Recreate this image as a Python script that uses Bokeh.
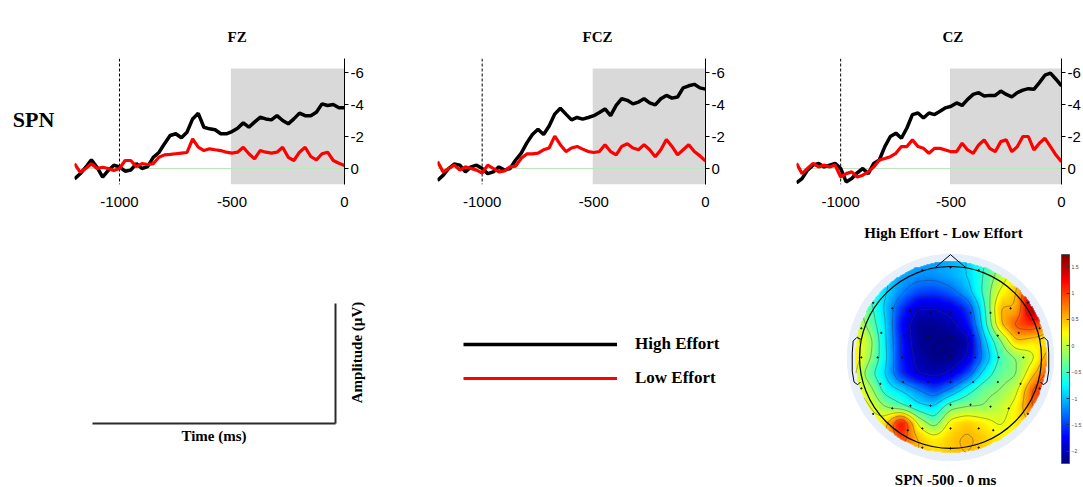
import numpy as np
from bokeh.plotting import figure
from bokeh.models import (Range1d, FixedTicker, Span, Label, Legend, LegendItem,
                          LinearColorMapper, ColorBar, BoxAnnotation)
from bokeh.layouts import row, column
from bokeh.embed import file_html
from bokeh.resources import INLINE

# ---------------- data ----------------
time_ms = list(range(-1200, 1, 25))

fz_high = [0.65, 0.33, -0.08, -0.54, -0.08, 0.54, 0.12, -0.2, -0.1, 0.17, 0.1, -0.3, 0.0,
           -0.12, -0.7, -1.0, -1.55, -2.06, -2.17, -1.92, -2.27, -3.1, -3.45, -2.58, -2.48,
           -2.42, -2.17, -2.17, -2.31, -2.52, -2.85, -2.58, -2.9, -3.2, -3.1, -3.04, -3.3,
           -3.0, -2.79, -3.1, -3.46, -3.3, -3.3, -3.52, -4.04, -3.94, -4.0, -3.8, -3.8]
fz_low = [-0.3, 0.23, 0.0, -0.3, 0.0, -0.08, 0.0, 0.12, 0.0, -0.5, -0.5, -0.12, -0.3,
          -0.25, -0.3, -0.7, -0.85, -0.88, -0.92, -0.96, -1.0, -1.85, -1.33, -1.12, -1.23,
          -1.17, -1.12, -1.02, -0.96, -1.02, -1.33, -0.92, -0.6, -1.12, -1.02, -0.96, -1.02,
          -1.33, -0.7, -0.5, -1.02, -1.33, -0.75, -0.54, -0.92, -1.02, -0.5, -0.33, -0.19]
fcz_high = [0.74, 0.43, 0.0, -0.28, -0.21, 0.21, -0.1, -0.21, 0.0, 0.32, 0.21, -0.1, 0.1,
            0.0, -0.53, -0.96, -1.6, -2.13, -2.45, -2.13, -2.66, -3.4, -3.77, -3.4, -3.04,
            -3.19, -3.09, -3.19, -3.3, -3.5, -3.72, -3.3, -3.94, -4.36, -4.26, -4.04, -4.15,
            -4.36, -4.1, -3.98, -4.36, -4.57, -4.4, -4.47, -5.04, -5.17, -5.26, -5.04, -4.96]
fcz_low = [-0.43, 0.21, 0.0, -0.21, 0.1, -0.1, 0.0, 0.1, 0.28, -0.21, 0.0, 0.21, 0.15,
           -0.1, -0.15, -0.64, -0.91, -0.91, -0.96, -1.17, -1.28, -2.02, -1.49, -1.06, -1.28,
           -1.38, -1.21, -1.06, -1.0, -1.06, -1.49, -1.06, -0.85, -1.38, -1.55, -1.28, -1.17,
           -1.49, -1.17, -0.74, -1.17, -1.81, -1.38, -0.85, -1.17, -1.49, -1.06, -0.79, -0.47]
cz_high = [0.9, 0.63, 0.1, -0.21, -0.32, -0.1, -0.21, -0.32, 0.0, 0.84, 0.63, 0.27, 0.0,
           0.32, -0.32, -0.53, -1.37, -2.0, -2.21, -1.89, -2.53, -3.37, -3.47, -3.16, -3.47,
           -3.37, -3.58, -3.79, -3.89, -4.1, -3.94, -4.32, -4.63, -4.74, -4.53, -4.57, -4.57,
           -4.84, -4.63, -4.48, -4.74, -4.9, -4.99, -4.95, -5.37, -5.83, -5.96, -5.58, -5.16]
cz_low = [-0.32, 0.32, 0.0, -0.32, -0.1, -0.21, -0.1, -0.21, 0.53, 0.32, 0.21, 0.53, 0.42,
          0.21, -0.1, -0.53, -0.63, -0.74, -0.95, -1.37, -1.37, -1.79, -1.37, -1.26, -0.95,
          -1.26, -1.26, -1.16, -1.05, -1.05, -1.58, -1.16, -0.95, -1.47, -1.79, -1.26, -1.05,
          -1.68, -1.79, -1.05, -1.37, -2.0, -2.0, -1.16, -1.58, -1.89, -1.37, -0.84, -0.42]

channels = ["FZ", "FCZ", "CZ"]
x_ticks = [-1000, -500, 0]
y_ticks = [-6, -4, -2, 0]
onset_ms = -1000
window_start, window_end = -505, 0
series_names = ["High Effort", "Low Effort"]

topo_axis = [-1.08, -0.9, -0.72, -0.54, -0.36, -0.18, 0.0, 0.18, 0.36, 0.54, 0.72, 0.9, 1.08]
topo_values = [
    [-0.6, -0.7, -0.8, -0.95, -1.05, -1.1, -1.05, -0.9, -0.6, -0.2, 0.3, 0.8, 0.9],
    [-0.5, -0.7, -0.85, -1.05, -1.15, -1.15, -1.05, -0.9, -0.55, -0.05, 0.35, 1.0, 1.1],
    [-0.3, -0.6, -0.85, -1.2, -1.45, -1.5, -1.35, -1.05, -0.5, 0.2, 0.45, 1.5, 1.5],
    [0.0, -0.4, -0.95, -1.55, -1.95, -1.95, -1.85, -1.55, -0.7, 0.55, 0.5, 1.7, 1.5],
    [0.2, -0.3, -0.85, -1.75, -2.15, -2.15, -2.05, -1.75, -0.8, 0.45, 0.95, 1.1, 0.6],
    [0.3, 0.0, -0.85, -1.65, -2.15, -2.2, -2.2, -2.1, -1.05, -0.3, 0.5, 0.35, 0.3],
    [0.4, -0.1, -0.8, -1.65, -2.05, -2.2, -2.2, -1.95, -1.2, -0.5, -0.2, 0.05, 0.7],
    [0.3, -0.4, -0.9, -1.6, -1.95, -2.05, -1.9, -1.5, -0.8, -0.35, -0.25, 0.4, 1.0],
    [0.3, 0.0, -0.7, -0.9, -1.2, -1.5, -1.2, -0.7, -0.3, -0.2, 0.05, 0.9, 1.3],
    [0.3, 0.2, -0.2, -0.5, -0.8, -0.9, -0.3, -0.2, -0.2, 0.0, 0.25, 0.9, 1.0],
    [0.3, 0.3, 0.35, 1.4, 0.1, -0.4, 0.3, 0.45, 0.3, 0.1, 0.3, 0.5, 0.5],
    [0.3, 0.3, 0.5, 1.0, 0.5, 0.3, 0.45, 0.55, 0.45, 0.3, 0.3, 0.3, 0.3],
    [0.3, 0.3, 0.5, 0.7, 0.5, 0.35, 0.45, 0.5, 0.4, 0.3, 0.3, 0.3, 0.3],
]
color_low, color_high = -2.23, 1.73
colorbar_ticks = [-2, -1.5, -1, -0.5, 0, 0.5, 1, 1.5]

# electrode positions (head-radius units)
elec_u = [-0.31, 0.0, 0.31, -0.85, -0.64, -0.44, -0.22, 0.0, 0.22, 0.44, 0.66, 0.85,
          -0.98, -0.76, -0.51, -0.25, 0.0, 0.25, 0.52, 0.75, 0.98,
          -0.98, -0.8, -0.53, -0.25, 0.0, 0.27, 0.53, 0.8,
          -0.98, -0.77, -0.52, -0.25, 0.0, 0.25, 0.52, 0.77, 0.98,
          -0.85, -0.64, -0.44, -0.22, 0.0, 0.22, 0.44, 0.64, 0.85,
          -0.47, -0.31, 0.0, 0.31, 0.47, -0.31, 0.0, 0.31]
elec_v = [0.96, 0.99, 0.96, 0.60, 0.54, 0.51, 0.49, 0.49, 0.49, 0.49, 0.54, 0.60,
          0.32, 0.27, 0.24, 0.23, 0.23, 0.24, 0.24, 0.27, 0.32,
          0.0, 0.0, 0.0, 0.0, 0.0, 0.0, 0.0, 0.0,
          -0.34, -0.29, -0.27, -0.27, -0.27, -0.27, -0.27, -0.29, -0.34,
          -0.62, -0.56, -0.53, -0.53, -0.52, -0.52, -0.54, -0.56, -0.62,
          -0.80, -0.78, -0.78, -0.78, -0.80, -0.99, -1.0, -0.99]

SERIF = "Liberation Serif"
SANS = "Liberation Sans"


def jet(n=256):
    out = []
    for i in range(n):
        t = i / (n - 1)
        r = min(max(1.5 - abs(4 * t - 3), 0), 1)
        g = min(max(1.5 - abs(4 * t - 2), 0), 1)
        b = min(max(1.5 - abs(4 * t - 1), 0), 1)
        out.append("#%02x%02x%02x" % (int(r * 255), int(g * 255), int(b * 255)))
    return out


def no_align(p):
    try:
        p.frame_align = False
    except Exception:
        pass


def hyphen(v):
    return ("-%g" % abs(v)) if v < 0 else "%g" % v


def erp_panel(name, high, low, width, left, right, title_off):
    p = figure(width=width, height=218, x_range=Range1d(-1200, 0), y_range=Range1d(1.0, -6.875),
               y_axis_location="right", output_backend="svg", toolbar_location=None,
               min_border_left=left, min_border_right=right, min_border_top=58,
               min_border_bottom=34)
    p.outline_line_color = None
    p.grid.visible = False
    p.background_fill_color = "white"
    p.add_layout(BoxAnnotation(left=window_start, right=window_end, top=-6.25, bottom=1.0,
                               fill_color="#d9d9d9", fill_alpha=1.0, line_color=None,
                               level="underlay"))
    p.add_layout(Span(location=0, dimension="width", line_color="#bfe5bf", line_width=1,
                      level="underlay"))
    p.add_layout(Span(location=onset_ms, dimension="height", line_color="black",
                      line_width=1, line_dash="3 2", level="underlay"))
    p.line(time_ms, high, line_color="black", line_width=3.5)
    p.line(time_ms, low, line_color="#ff0000", line_width=3.2)

    p.xaxis.ticker = FixedTicker(ticks=x_ticks)
    p.xaxis.major_label_overrides = {t: hyphen(t) for t in x_ticks}
    p.xaxis.axis_line_color = None
    p.xaxis.major_tick_line_color = None
    p.xaxis.minor_tick_line_color = None
    p.xaxis.major_label_standoff = 6
    p.xaxis.major_label_text_font = SANS
    p.xaxis.major_label_text_font_size = "15px"
    p.xaxis.major_label_text_color = "black"

    p.yaxis.ticker = FixedTicker(ticks=y_ticks)
    p.yaxis.major_label_overrides = {t: hyphen(t) for t in y_ticks}
    p.yaxis.axis_line_color = "black"
    p.yaxis.axis_line_width = 1
    p.yaxis.major_tick_out = 4
    p.yaxis.major_tick_in = 0
    p.yaxis.minor_tick_line_color = None
    p.yaxis.major_label_standoff = 2
    p.yaxis.major_label_text_font = SANS
    p.yaxis.major_label_text_font_size = "15px"
    p.yaxis.major_label_text_color = "black"

    p.title.text = name
    p.title.align = "left"
    p.title.offset = title_off
    p.title.standoff = 27
    p.title.text_font = SERIF
    p.title.text_font_style = "bold"
    p.title.text_font_size = "15px"
    p.title.text_color = "black"
    return p


# SPN row label
sp = figure(width=60, height=218, x_range=Range1d(0, 60), y_range=Range1d(0, 126),
            x_axis_type=None, y_axis_type=None, output_backend="svg", toolbar_location=None,
            min_border_left=0, min_border_right=0, min_border_top=58, min_border_bottom=34)
sp.outline_line_color = None
sp.grid.visible = False
sp.add_layout(Label(x=33, y=65, text="SPN", text_font=SERIF, text_font_style="bold",
                    text_font_size="22px", text_align="center", text_baseline="middle",
                    text_color="black"))

p1 = erp_panel(channels[0], fz_high, fz_low, 332, 14, 48, 153)
p2 = erp_panel(channels[1], fcz_high, fcz_low, 360, 45, 47, 145)
p3 = erp_panel(channels[2], cz_high, cz_low, 331, 44, 16, 146)

# ---------- scale bar axes ----------
sb = figure(width=345, height=269, x_range=Range1d(0, 1), y_range=Range1d(0, 1),
            y_axis_location="right", output_backend="svg", toolbar_location=None,
            min_border_left=92, min_border_right=10, min_border_top=85, min_border_bottom=64)
sb.outline_line_color = None
sb.grid.visible = False
for ax in (sb.xaxis, sb.yaxis):
    ax.ticker = FixedTicker(ticks=[])
    ax.axis_line_width = 2
    ax.axis_line_color = "#2a2a2a"
    ax.major_tick_out = 0
    ax.major_tick_in = 0
    ax.major_label_standoff = 0
sb.xaxis.axis_label = "Time (ms)"
sb.xaxis.axis_label_text_font = SERIF
sb.xaxis.axis_label_text_font_style = "bold"
sb.xaxis.axis_label_text_font_size = "15px"
sb.xaxis.axis_label_text_color = "black"
sb.xaxis.axis_label_standoff = 4

# ---------- legend + amplitude label ----------
lg = figure(width=485, height=269, x_range=Range1d(0, 485), y_range=Range1d(0, 269),
            x_axis_type=None, y_axis_type=None, output_backend="svg", toolbar_location=None,
            min_border=0)
no_align(lg)
lg.outline_line_color = None
lg.grid.visible = False
r_hi = lg.line(x=[-10], y=[-10], line_color="black", line_width=3.5)
r_lo = lg.line(x=[-10], y=[-10], line_color="#ff0000", line_width=3.2)
legend = Legend(items=[LegendItem(label=series_names[0], renderers=[r_hi]),
                       LegendItem(label=series_names[1], renderers=[r_lo])],
                location=(118, 99), glyph_width=154, glyph_height=20, label_standoff=18,
                spacing=14, padding=0, margin=0, border_line_color=None,
                background_fill_alpha=0, label_text_font=SERIF, label_text_font_style="bold",
                label_text_font_size="17px", label_text_color="black")
lg.add_layout(legend)
lg.add_layout(Label(x=11, y=135, text="Amplitude (µV)", angle=np.pi / 2, text_font=SERIF,
                    text_font_style="bold", text_font_size="15px", text_align="center",
                    text_baseline="middle", text_color="black"))

# ---------- topography ----------
tp = figure(width=253, height=269, x_range=Range1d(-1.319, 1.462), y_range=Range1d(-1.429, 1.527),
            x_axis_type=None, y_axis_type=None, output_backend="svg", toolbar_location=None,
            min_border=0)
no_align(tp)
tp.outline_line_color = None
tp.grid.visible = False

src_axis = np.asarray(topo_axis, float)
grid = np.asarray(topo_values, float)[::-1]  # bottom row first
n = 217
dst = np.linspace(src_axis[0], src_axis[-1], n)
tmp = np.array([np.interp(dst, src_axis, r) for r in grid])
field = np.array([np.interp(dst, src_axis, c) for c in tmp.T]).T
k = 3
for _ in range(3):
    pad = np.pad(field, k, mode="edge")
    field = sum(pad[i:i + n, j:j + n] for i in range(2 * k + 1) for j in range(2 * k + 1)) / (2 * k + 1) ** 2
XX, YY = np.meshgrid(dst, dst)
field = np.where(np.hypot(XX, YY) > 1.055, np.nan, field)

mapper = LinearColorMapper(palette=jet(256), low=color_low, high=color_high,
                           nan_color=(0, 0, 0, 0))
tp.circle(x=[0], y=[0], radius=1.14, fill_color="#e7effb", line_color=None)
tp.image(image=[field], x=dst[0], y=dst[0], dw=dst[-1] - dst[0], dh=dst[-1] - dst[0],
         color_mapper=mapper)
tp.contour(dst, dst, field, levels=[-1.95, -1.6, -1.25, -0.9, -0.55, -0.2, 0.15, 0.5, 0.85, 1.2, 1.55],
           line_color="#333333", line_alpha=0.5, line_width=0.8)
tp.scatter(x=elec_u, y=elec_v, size=1.3, color="#111111")
tp.circle(x=[0], y=[0], radius=1.0, fill_color=None, line_color="black", line_width=1.2)
tp.line(x=[-0.17, 0.0, 0.17], y=[0.985, 1.13, 0.985], line_color="black", line_width=1)
ear_x = [0.985, 1.03, 1.07, 1.08, 1.08, 1.06, 1.02, 0.99]
ear_y = [0.2, 0.22, 0.18, 0.05, -0.15, -0.27, -0.3, -0.27]
tp.line(x=ear_x, y=ear_y, line_color="black", line_width=1)
tp.line(x=[-v for v in ear_x], y=ear_y, line_color="black", line_width=1)

cb = ColorBar(color_mapper=mapper, location=(231, 24), width=8, height=209, padding=0,
              margin=0, ticker=FixedTicker(ticks=colorbar_ticks),
              major_label_text_font_size="5px", major_tick_line_color="#333333",
              major_tick_in=3, major_tick_out=0, bar_line_color="#555555",
              background_fill_color=None, border_line_color=None, label_standoff=2)
tp.add_layout(cb)
tp.add_layout(Label(x=-0.077, y=1.363, text="High Effort - Low Effort", text_font=SERIF,
                    text_font_style="bold", text_font_size="15px", text_align="center",
                    text_baseline="middle", text_color="black"))
tp.add_layout(Label(x=-0.033, y=-1.352, text="SPN  -500 - 0 ms", text_font=SERIF,
                    text_font_style="bold", text_font_size="15px", text_align="center",
                    text_baseline="middle", text_color="black"))

layout = column(row(sp, p1, p2, p3), row(sb, lg, tp))
open("out.html", "w").write(file_html(layout, INLINE))
